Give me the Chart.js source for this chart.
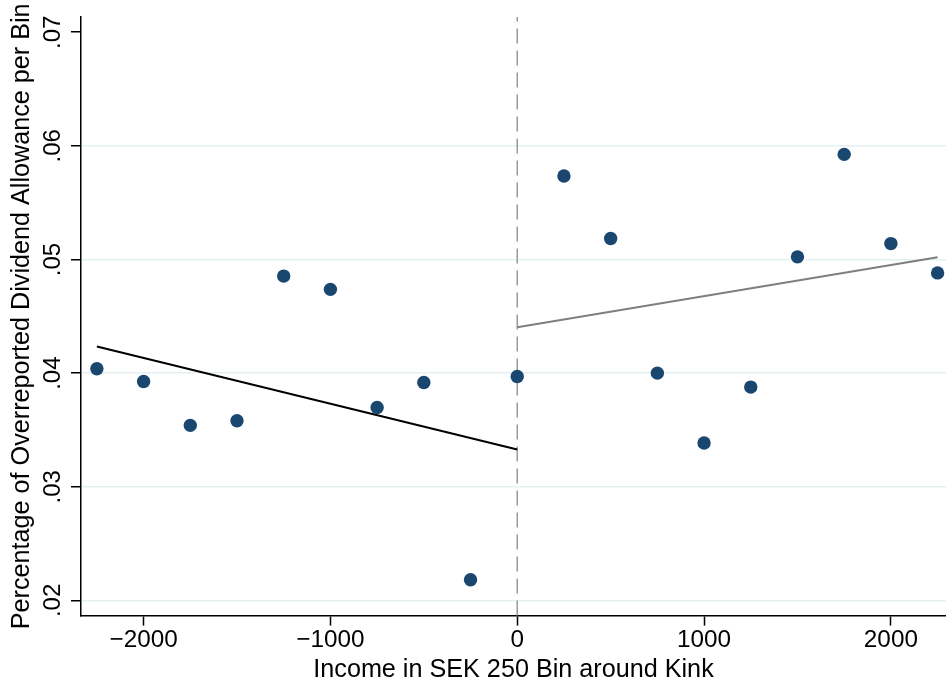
<!DOCTYPE html>
<html>
<head>
<meta charset="utf-8">
<script src="https://cdn.jsdelivr.net/npm/chart.js@4/dist/chart.umd.min.js"></script>
<style>
  html, body { margin: 0; padding: 0; background: #fff; }
  #wrap { width: 946px; height: 685px; position: relative; }
</style>
</head>
<body>
<div id="wrap"><canvas id="c"></canvas></div>
<script>
// ---- data ----
const binCenters = [-2250, -2000, -1750, -1500, -1250, -1000, -750, -500, -250, 0,
                    250, 500, 750, 1000, 1250, 1500, 1750, 2000, 2250];
const shareOverreported = [0.04038, 0.03926, 0.0354, 0.03581, 0.04854, 0.04737, 0.03698, 0.03917, 0.02182, 0.0397,
                           0.05735, 0.05185, 0.0400, 0.03385, 0.03877, 0.05023, 0.05925, 0.0514, 0.04882];
const leftFitX = [-2250, 0];
const leftFitY = [0.04234, 0.03327];
const rightFitX = [0, 2250];
const rightFitY = [0.04404, 0.0502];
const kinkX = 0;
const xTickValues = [-2000, -1000, 0, 1000, 2000];
const yTickValues = [0.02, 0.03, 0.04, 0.05, 0.06, 0.07];
const xRange = [-2335, 2295];
const yRange = [0.01866, 0.07134];
const xTitle = 'Income in SEK 250 Bin around Kink';
const yTitle = 'Percentage of Overreported Dividend Allowance per Bin';

const FONT = '"Liberation Sans", Arial, Helvetica, sans-serif';
const NAVY = '#1a476f';

const points = binCenters.map((x, i) => ({ x, y: shareOverreported[i] }));
const leftFit = leftFitX.map((x, i) => ({ x, y: leftFitY[i] }));
const rightFit = rightFitX.map((x, i) => ({ x, y: rightFitY[i] }));
const kinkLine = [{ x: kinkX, y: yRange[0] }, { x: kinkX, y: yRange[1] }];

const fmtY = v => v.toFixed(2).replace(/^0/, '');
const fmtX = v => (v < 0 ? '\u2212' + Math.abs(v) : String(v));

// draws the y tick labels rotated like Stata, at the scale's own tick positions
const rotatedYTicks = {
  id: 'rotatedYTicks',
  afterDraw(chart) {
    const s = chart.scales.y;
    const ctx = chart.ctx;
    ctx.save();
    ctx.fillStyle = '#000';
    ctx.font = '24px ' + FONT;
    ctx.textAlign = 'center';
    ctx.textBaseline = 'alphabetic';
    const bx = s.right - 10 - 11;
    s.ticks.forEach(t => {
      const py = s.getPixelForValue(t.value);
      ctx.save();
      ctx.translate(bx, py);
      ctx.rotate(-Math.PI / 2);
      ctx.fillText(fmtY(t.value), 0, 0);
      ctx.restore();
    });
    ctx.restore();
  }
};

new Chart(document.getElementById('c'), {
  type: 'scatter',
  data: {
    datasets: [
      {
        type: 'line',
        data: kinkLine,
        borderColor: '#9a9a9a',
        borderWidth: 1.5,
        borderDash: [15, 7],
        pointRadius: 0,
        fill: false,
        clip: false,
        order: 3
      },
      {
        type: 'line',
        data: leftFit,
        borderColor: '#000000',
        borderWidth: 2,
        pointRadius: 0,
        fill: false,
        clip: false,
        order: 2
      },
      {
        type: 'line',
        data: rightFit,
        borderColor: '#7f7f7f',
        borderWidth: 2,
        pointRadius: 0,
        fill: false,
        clip: false,
        order: 2
      },
      {
        data: points,
        backgroundColor: NAVY,
        borderColor: NAVY,
        borderWidth: 0,
        pointRadius: 6.7,
        pointHoverRadius: 6.7,
        clip: false,
        order: 1
      }
    ]
  },
  options: {
    responsive: true,
    maintainAspectRatio: false,
    animation: false,
    layout: { autoPadding: false, padding: { left: 0, right: 0, top: 17, bottom: 0 } },
    plugins: {
      legend: { display: false },
      tooltip: { enabled: false }
    },
    scales: {
      x: {
        type: 'linear',
        min: xRange[0],
        max: xRange[1],
        afterBuildTicks: s => { s.ticks = xTickValues.map(v => ({ value: v })); },
        grid: {
          display: true,
          drawOnChartArea: false,
          drawTicks: true,
          tickLength: 10,
          tickColor: '#000',
          tickWidth: 1.5
        },
        border: { display: true, color: '#000', width: 1.5 },
        ticks: {
          color: '#000',
          font: { family: FONT, size: 24.3 },
          padding: 0,
          maxRotation: 0,
          autoSkip: false,
          callback: v => fmtX(v)
        },
        title: {
          display: true,
          text: xTitle,
          color: '#000',
          font: { family: FONT, size: 25.2 },
          padding: { top: 0, bottom: 0 }
        }
      },
      y: {
        type: 'linear',
        min: yRange[0],
        max: yRange[1],
        afterBuildTicks: s => { s.ticks = yTickValues.map(v => ({ value: v })); },
        afterFit: s => { s.width = 81; },
        grid: {
          display: true,
          drawOnChartArea: true,
          drawTicks: true,
          tickLength: 10,
          tickColor: '#000',
          tickWidth: 1.5,
          lineWidth: 1.5,
          color: ctx => (ctx.tick && ctx.tick.value >= 0.07 - 1e-9) ? 'rgba(0,0,0,0)' : '#e6eff1'
        },
        border: { display: true, color: '#000', width: 1.5 },
        ticks: { display: false },
        title: {
          display: true,
          text: yTitle,
          color: '#000',
          font: { family: FONT, size: 25.2 },
          padding: { top: 7, bottom: 0 }
        }
      }
    }
  },
  plugins: [rotatedYTicks]
});
</script>
</body>
</html>
